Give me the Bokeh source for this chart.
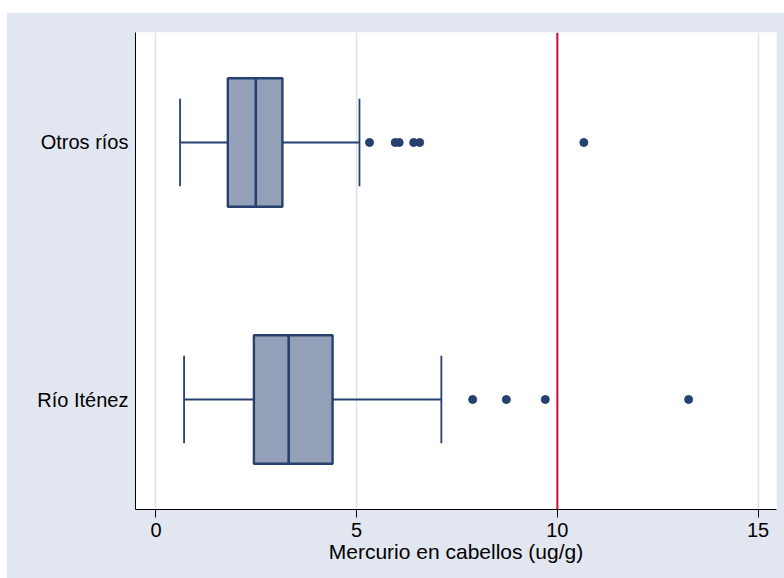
from bokeh.plotting import figure
from bokeh.models import Range1d, FixedTicker, Span
from bokeh.embed import file_html
from bokeh.resources import INLINE

# Data
groups = ["Río Iténez", "Otros ríos"]
group_pos = [1, 2]
whisker_low = [0.70, 0.60]
q1 = [2.44, 1.79]
median = [3.31, 2.49]
q3 = [4.40, 3.15]
whisker_high = [7.11, 5.07]
outliers_rio = [7.89, 8.73, 9.70, 13.27]
outliers_otros = [5.32, 5.96, 6.06, 6.42, 6.57, 10.66]
reference_value = 10
x_ticks = [0, 5, 10, 15]

NAVY = "#26406f"
FILL = "#93a0b7"
BG = "#e1e6f0"
FONT = "Liberation Sans"

p = figure(width=778, height=566, output_backend="svg", toolbar_location=None,
           x_range=Range1d(-0.51, 15.46), y_range=Range1d(0.572, 2.428),
           min_border_left=129, min_border_right=8, min_border_top=20, min_border_bottom=69)
p.margin = (12, 0, 0, 6)
p.border_fill_color = BG
p.background_fill_color = "white"
p.outline_line_color = None

box_h = 0.25
cap_h = 0.17

# boxes (two halves, as in Stata)
p.quad(left=q1, right=median, bottom=[g - box_h for g in group_pos], top=[g + box_h for g in group_pos],
       fill_color=FILL, line_color=NAVY, line_width=2.4)
p.quad(left=median, right=q3, bottom=[g - box_h for g in group_pos], top=[g + box_h for g in group_pos],
       fill_color=FILL, line_color=NAVY, line_width=2.4)

# whiskers
p.segment(x0=whisker_low, y0=group_pos, x1=q1, y1=group_pos, line_color=NAVY, line_width=1.8)
p.segment(x0=q3, y0=group_pos, x1=whisker_high, y1=group_pos, line_color=NAVY, line_width=1.8)
p.segment(x0=whisker_low, y0=[g - cap_h for g in group_pos], x1=whisker_low, y1=[g + cap_h for g in group_pos],
          line_color=NAVY, line_width=1.8)
p.segment(x0=whisker_high, y0=[g - cap_h for g in group_pos], x1=whisker_high, y1=[g + cap_h for g in group_pos],
          line_color=NAVY, line_width=1.8)

# outliers
p.scatter(x=outliers_rio, y=[group_pos[0]] * len(outliers_rio), size=8, color=NAVY)
p.scatter(x=outliers_otros, y=[group_pos[1]] * len(outliers_otros), size=8, color=NAVY)

# reference line
p.add_layout(Span(location=reference_value, dimension="height", line_color="#cc1038", line_width=2))

# x axis
p.xaxis.ticker = FixedTicker(ticks=x_ticks)
p.xaxis.minor_tick_line_color = None
p.xaxis.major_tick_in = 0
p.xaxis.major_tick_out = 8
p.xaxis.major_label_standoff = 5
p.xaxis.major_label_text_font = FONT
p.xaxis.major_label_text_font_size = "20px"
p.xaxis.major_label_text_color = "black"
p.xaxis.axis_label = "Mercurio en cabellos (ug/g)"
p.xaxis.axis_label_text_font = FONT
p.xaxis.axis_label_text_font_size = "21px"
p.xaxis.axis_label_text_font_style = "normal"
p.xaxis.axis_label_text_color = "black"
p.xaxis.axis_label_standoff = 0
p.xaxis.axis_line_color = "black"
p.xaxis.major_tick_line_color = "black"

# y axis
p.yaxis.ticker = FixedTicker(ticks=group_pos)
p.yaxis.major_label_overrides = {g: name for g, name in zip(group_pos, groups)}
p.yaxis.minor_tick_line_color = None
p.yaxis.major_tick_in = 0
p.yaxis.major_tick_out = 0
p.yaxis.major_label_standoff = 7
p.yaxis.major_label_text_font = FONT
p.yaxis.major_label_text_font_size = "20px"
p.yaxis.major_label_text_color = "black"
p.yaxis.axis_line_color = "black"

# grid
p.xgrid.grid_line_color = "#dde3ee"
p.xgrid.grid_line_width = 1.5
p.ygrid.grid_line_color = None

open("out.html", "w").write(file_html(p, INLINE))
